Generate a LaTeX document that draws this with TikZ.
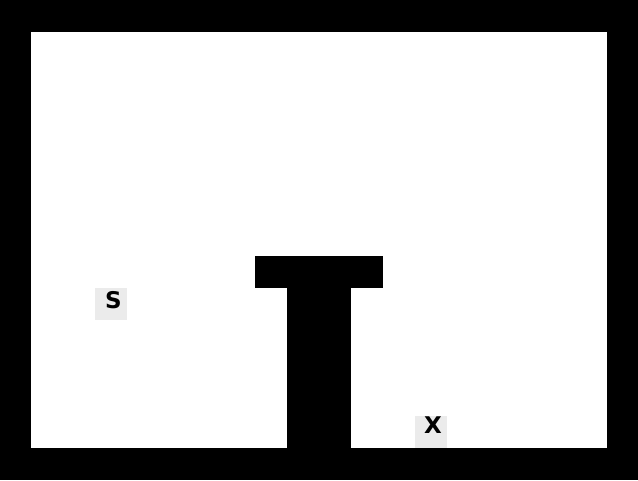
\documentclass[tikz,border=0pt]{standalone}
\usepackage{fontspec}
\setmainfont{DejaVu Sans}
\usetikzlibrary{positioning}
\definecolor{cellgray}{RGB}{235,235,235}

\begin{document}
\begin{tikzpicture}[x=1pt,y=-1pt,
  wall/.style={fill=black},
  cell/.style={fill=cellgray,minimum size=32pt,inner sep=0pt,
               font=\bfseries\fontsize{23}{23}\selectfont}]
  \useasboundingbox (0,0) rectangle (638,480);
  % outer walls
  \fill[wall] (0,0) rectangle (638,480);
  \fill[white] (31,32) rectangle (607,448);
  % T block
  \fill[wall] (255,256) rectangle (383,288);
  \fill[wall] (287,288) rectangle (351,448);
  % start and goal
  \node[cell,text depth=8pt] (start) at (111,304) {\hspace*{5pt}S};
  \node[cell,text depth=13pt] (goal) at (431,432) {\hspace*{4pt}X};
\end{tikzpicture}
\end{document}
